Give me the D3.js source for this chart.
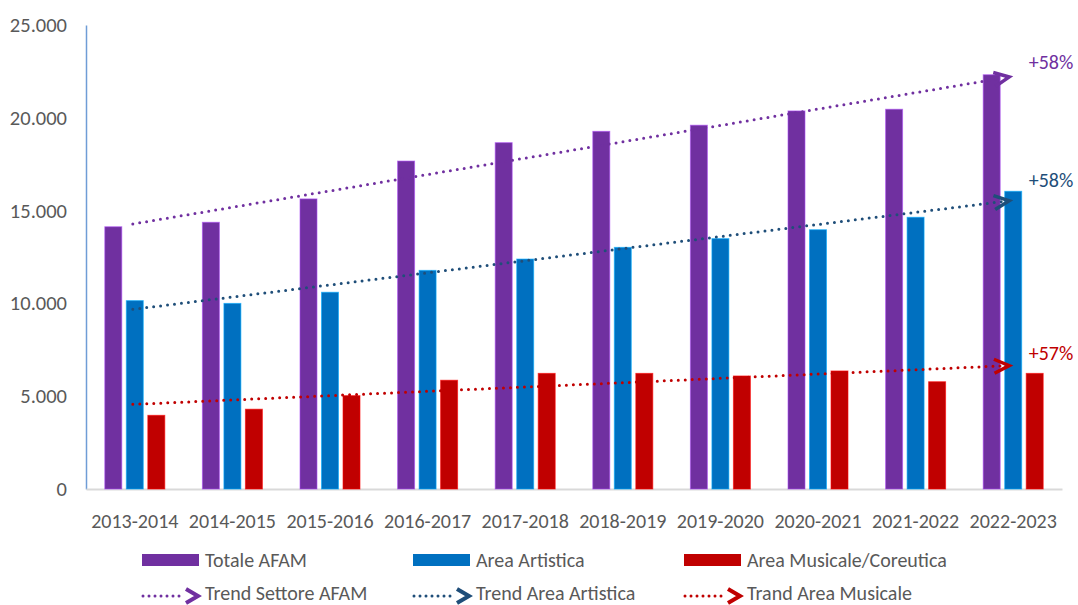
<!DOCTYPE html>
<html>
<head>
<meta charset="utf-8">
<script src="https://cdn.jsdelivr.net/npm/d3@7"></script>
<style>
  html, body { margin: 0; padding: 0; background: #fff; }
  svg { display: block; }
  text { font-family: Carlito, "Liberation Sans", Arial, sans-serif; }
</style>
</head>
<body>
<svg id="chart" width="1078" height="605"></svg>
<script>
// Academic years
const years = ["2013-2014", "2014-2015", "2015-2016", "2016-2017", "2017-2018",
               "2018-2019", "2019-2020", "2020-2021", "2021-2022", "2022-2023"];

// Enrolments per sector
const totaleAFAM     = [14130, 14370, 15630, 17670, 18660, 19270, 19600, 20370, 20460, 22320];
const areaArtistica  = [10150, 10000, 10600, 11780, 12390, 13020, 13490, 13970, 14640, 16040];
const areaMusicale   = [3970, 4300, 5030, 5860, 6230, 6230, 6090, 6360, 5780, 6230];

// Linear trend (first year -> last year) for each series
const trendNames = ["Trend Settore AFAM", "Trend Area Artistica", "Trand Area Musicale"];
const trendStart = [14280, 9680, 4560];
const trendEnd   = [22200, 15530, 6650];
const growthLabels = ["+58%", "+58%", "+57%"];

const seriesNames = ["Totale AFAM", "Area Artistica", "Area Musicale/Coreutica"];
const yTicks = [0, 5000, 10000, 15000, 20000, 25000];

const barColors   = ["#7030A0", "#0070C0", "#C00000"];
const trendColors = ["#7030A0", "#1F4E79", "#C00000"];
const labelDy     = [-8, -14, -6];

const svg = d3.select("#chart");
const margin = { left: 86, right: 16, top: 25, bottom: 116 };
const W = 1078, H = 605;
const plotBottom = H - margin.bottom; // 489

const x = d3.scaleBand().domain(years).range([margin.left, W - margin.right]).paddingInner(0).paddingOuter(0);
const xs = d3.scaleBand().domain(d3.range(3)).range([-30, 30]).paddingInner(0.21).paddingOuter(0);
const y = d3.scaleLinear().domain([0, 25000]).range([plotBottom, margin.top]);

const fmt = v => d3.format(",")(v).replace(/,/g, ".");

// Y axis
const yAxis = svg.append("g")
  .attr("transform", `translate(${margin.left},0)`)
  .call(d3.axisLeft(y).tickValues(yTicks).tickFormat(fmt).tickSize(0).tickPadding(19));
yAxis.select(".domain").attr("stroke", "#6F9DD6").attr("stroke-width", 1.5);
yAxis.selectAll("text").attr("font-size", 20.5).attr("fill", "#595959");

// X axis
const xAxis = svg.append("g")
  .attr("transform", `translate(0,${plotBottom})`)
  .call(d3.axisBottom(x).tickSize(0).tickPadding(25));
xAxis.select(".domain").attr("stroke", "#D9D9D9").attr("stroke-width", 2);
xAxis.selectAll("text").attr("font-size", 20).attr("fill", "#595959");

// Bars
const seriesData = [totaleAFAM, areaArtistica, areaMusicale];
seriesData.forEach((vals, si) => {
  svg.append("g").selectAll("rect")
    .data(vals)
    .join("rect")
    .attr("x", (d, i) => x(years[i]) + x.bandwidth() / 2 + xs(si))
    .attr("y", d => y(d))
    .attr("width", xs.bandwidth())
    .attr("height", d => plotBottom - y(d))
    .attr("fill", barColors[si])
    .attr("stroke", d3.color(barColors[si]).brighter(1.2))
    .attr("stroke-opacity", 0.6)
    .attr("stroke-width", 1);
});

// Trend arrows
const chevron = (g, tx, ty, angle, color, hw, hh, sw) => {
  g.append("path")
    .attr("d", `M${-hw},${-hh} L0,0 L${-hw},${hh}`)
    .attr("transform", `translate(${tx},${ty}) rotate(${angle})`)
    .attr("fill", "none")
    .attr("stroke", color)
    .attr("stroke-width", sw)
    .attr("stroke-linejoin", "miter")
    .attr("stroke-linecap", "butt");
};

const xFirst = x(years[0]) + x.bandwidth() / 2 - 2;
const xLast  = x(years[years.length - 1]) + x.bandwidth() / 2 - 4;
const trends = svg.append("g");
trendStart.forEach((s, i) => {
  const x0 = xFirst, y0 = y(s), x1 = xLast, y1 = y(trendEnd[i]);
  const ang = Math.atan2(y1 - y0, x1 - x0) * 180 / Math.PI;
  trends.append("line")
    .attr("x1", x0).attr("y1", y0)
    .attr("x2", x1 - 8).attr("y2", y1 - (y1 - y0) * 8 / (x1 - x0))
    .attr("stroke", trendColors[i])
    .attr("stroke-width", 3)
    .attr("stroke-linecap", "round")
    .attr("stroke-dasharray", "0 7");
  chevron(trends, x1, y1, ang, trendColors[i], 15, 7, 3.5);
  trends.append("text")
    .attr("x", 1051)
    .attr("y", y1 + labelDy[i])
    .attr("text-anchor", "middle")
    .attr("font-size", 20)
    .attr("fill", trendColors[i])
    .text(growthLabels[i]);
});

// Legend
const legendCols = [142, 413, 684];
const legend = svg.append("g");
seriesNames.forEach((name, i) => {
  const lx = legendCols[i];
  legend.append("rect")
    .attr("x", lx).attr("y", 554).attr("width", 57).attr("height", 12)
    .attr("fill", barColors[i]);
  legend.append("text")
    .attr("x", lx + 63).attr("y", 566.5)
    .attr("font-size", 20).attr("fill", "#595959")
    .text(name);
});
trendNames.forEach((name, i) => {
  const lx = legendCols[i];
  const ly = 596;
  legend.append("line")
    .attr("x1", lx + 1).attr("y1", ly).attr("x2", lx + 42).attr("y2", ly)
    .attr("stroke", trendColors[i]).attr("stroke-width", 3)
    .attr("stroke-linecap", "round").attr("stroke-dasharray", "0 6");
  chevron(legend, lx + 56, ly, 0, trendColors[i], 12, 7, 4);
  legend.append("text")
    .attr("x", lx + 63).attr("y", 600)
    .attr("font-size", 20).attr("fill", "#595959")
    .text(name);
});
</script>
</body>
</html>
